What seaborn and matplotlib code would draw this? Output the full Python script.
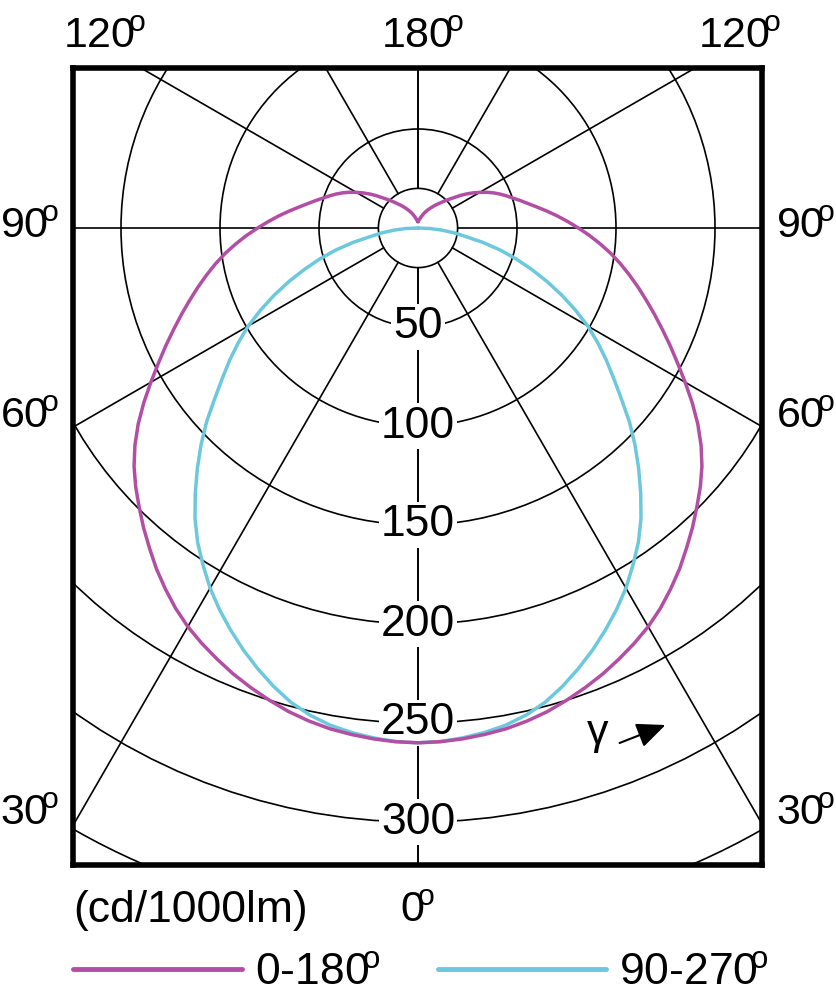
import numpy as np
import seaborn as sns
import matplotlib.pyplot as plt
from matplotlib.patches import Circle

# luminous intensity (cd/1000lm), gamma in degrees (2.5 deg steps)
gamma_c0 = [i * 2.5 for i in range(73)]
cd_c0_180 = [260, 259.7, 259, 258, 256.8, 255, 252.8, 250, 247, 243.8, 240.2,
             236.5, 232.5, 227.8, 222.5, 217, 211, 205.2, 199.2, 193.4, 187.2,
             180.2, 172.5, 164.2, 155.8, 147.8, 140.5, 133.5, 127, 120.8, 115,
             109.3, 103.8, 98.2, 92.4, 86.7, 81, 75.6, 70.5, 65.6, 61, 57, 53.5,
             50.3, 47.5, 44.8, 42, 39.1, 36, 33, 30, 27, 24, 21.6, 19.5, 17.6,
             16, 14.6, 13.3, 12.1, 11, 10, 9, 8.1, 7.2, 6.4, 5.7, 5.1, 4.5, 4,
             3.6, 3.3, 3.2]
gamma_c90 = [i * 2.5 for i in range(37)]
cd_c90_270 = [260, 259.6, 258.5, 257, 255, 252, 248, 242.7, 236.8, 230.6, 224,
              217.2, 210, 202, 194, 185, 175, 165, 155, 144.8, 134, 124.5, 116,
              107.5, 99, 89.5, 80, 70.5, 61, 52, 43, 33.5, 24, 18, 12, 6, 0]

ring_radii = [20, 50, 100, 150, 200, 250, 300, 350, 400]
ring_labels = [50, 100, 150, 200, 250, 300]
spoke_angles = [0, 30, 60, 90, 120, 150, 180]

MAGENTA = "#b24ea3"
CYAN = "#6cc8dc"
W, H = 836, 1000
CX, CY, SCALE = 418, 228, 1.98   # centre of the diagram in px, px per cd


def mirrored_xy(angles, values):
    a = np.array(angles, dtype=float)
    v = np.array(values, dtype=float)
    a = np.concatenate([-a[::-1], a[1:]])
    v = np.concatenate([v[::-1], v[1:]])
    t = np.radians(a)
    return v * np.sin(t), -v * np.cos(t)


def deg(s):
    return s + r"$\!^{\mathrm{o}}$"


sns.set_theme(style="white")
plt.rcParams["font.family"] = ["Liberation Sans", "DejaVu Sans"]
plt.rcParams["mathtext.fontset"] = "custom"
plt.rcParams["mathtext.rm"] = "Liberation Sans"
plt.rcParams["text.color"] = "black"

fig = plt.figure(figsize=(W / 100, H / 100), dpi=100)
left, right, top, bottom = 73, 762, 68, 865
ax = fig.add_axes([left / W, 1 - bottom / H, (right - left) / W, (bottom - top) / H])
ax.set_xlim((left - CX) / SCALE, (right - CX) / SCALE)
ax.set_ylim((CY - bottom) / SCALE, (CY - top) / SCALE)
ax.set_aspect("equal", adjustable="box")

# grid: rings and spokes
for r in ring_radii:
    ax.add_patch(Circle((0, 0), r, fill=False, ec="black", lw=1.2, zorder=1))
for a in spoke_angles:
    for s in (-1, 1):
        t = np.radians(a * s)
        ax.plot([20 * np.sin(t), 600 * np.sin(t)], [-20 * np.cos(t), -600 * np.cos(t)],
                color="black", lw=1.2, zorder=1)

for r in ring_labels:
    ax.text(0, -r, str(r), ha="center", va="center", fontsize=32, zorder=3,
            bbox=dict(fc="white", ec="none", pad=1.5))

# curves
x90, y90 = mirrored_xy(gamma_c90, cd_c90_270)
x0, y0 = mirrored_xy(gamma_c0, cd_c0_180)
sns.lineplot(x=x90, y=y90, sort=False, estimator=None, color=CYAN, lw=2.5,
             ax=ax, zorder=4, label=deg("90-270"))
sns.lineplot(x=x0, y=y0, sort=False, estimator=None, color=MAGENTA, lw=2.5,
             ax=ax, zorder=5, label=deg("0-180"))

# gamma arrow
ax.text((598 - CX) / SCALE, (CY - 744) / SCALE, "γ", fontsize=31, ha="center",
        va="baseline")
ax.annotate("", xy=((668 - CX) / SCALE, (CY - 724) / SCALE),
            xytext=((617 - CX) / SCALE, (CY - 744) / SCALE),
            arrowprops=dict(arrowstyle="-|>,head_length=0.8,head_width=0.35",
                            color="black", lw=1.5, mutation_scale=22))

ax.set_xticks([])
ax.set_yticks([])
ax.set_xlabel("")
ax.set_ylabel("")
for sp in ax.spines.values():
    sp.set_visible(True)
    sp.set_color("black")
    sp.set_linewidth(4)

# angle labels around the frame (px positions)
angle_labels = [
    ("120", 63, 48, "left"), ("180", 381, 48, "left"), ("120", 698, 48, "left"),
    ("90", 0, 238, "left"), ("90", 835, 238, "right"),
    ("60", 0, 428, "left"), ("60", 835, 428, "right"),
    ("30", 0, 825, "left"), ("30", 835, 825, "right"),
    ("0", 400, 922, "left"),
]
for txt, px, py, ha in angle_labels:
    fig.text(px / W, 1 - py / H, deg(txt), fontsize=31, ha=ha, va="baseline")
fig.text(73 / W, 1 - 922 / H, "(cd/1000lm)", fontsize=32, ha="left", va="baseline")

handles, labels = ax.get_legend_handles_labels()
leg = ax.legend(handles[::-1], labels[::-1], loc="center left", ncol=2,
                bbox_to_anchor=(73 / W, 1 - 973 / H), bbox_transform=fig.transFigure,
                frameon=False, fontsize=32, handlelength=3.8, handletextpad=0.29,
                columnspacing=1.3, borderpad=0, borderaxespad=0)
for ln in leg.get_lines():
    ln.set_linewidth(3.5)

fig.savefig("out.png", dpi=100)
